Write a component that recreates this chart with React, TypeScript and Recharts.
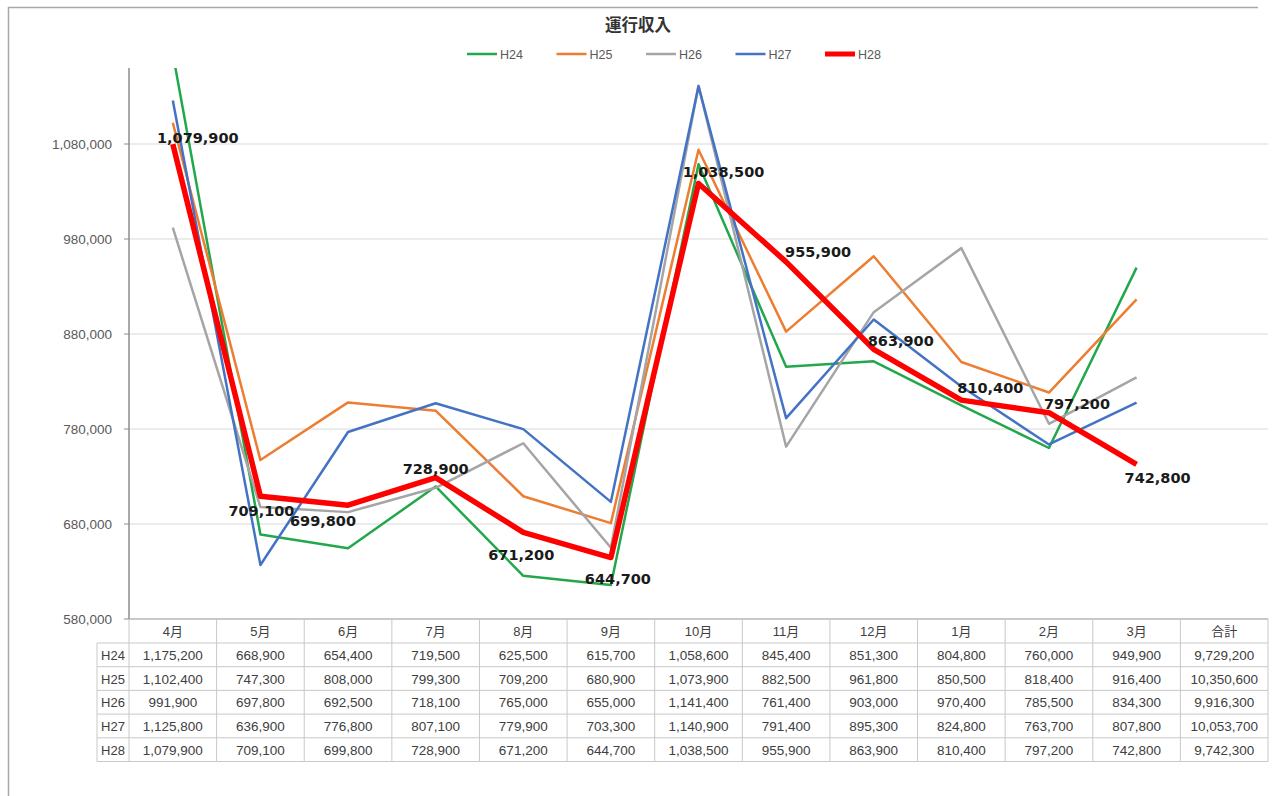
import React from 'react';
import { LineChart, Line, XAxis, YAxis, CartesianGrid, LabelList } from 'recharts';

const months = ['4月', '5月', '6月', '7月', '8月', '9月', '10月', '11月', '12月', '1月', '2月', '3月', '合計'];
const seriesNames = ['H24', 'H25', 'H26', 'H27', 'H28'];
const h24 = [1175200, 668900, 654400, 719500, 625500, 615700, 1058600, 845400, 851300, 804800, 760000, 949900];
const h25 = [1102400, 747300, 808000, 799300, 709200, 680900, 1073900, 882500, 961800, 850500, 818400, 916400];
const h26 = [991900, 697800, 692500, 718100, 765000, 655000, 1141400, 761400, 903000, 970400, 785500, 834300];
const h27 = [1125800, 636900, 776800, 807100, 779900, 703300, 1140900, 791400, 895300, 824800, 763700, 807800];
const h28 = [1079900, 709100, 699800, 728900, 671200, 644700, 1038500, 955900, 863900, 810400, 797200, 742800];
const totals = [9729200, 10350600, 9916300, 10053700, 9742300];
const yTicks = [580000, 680000, 780000, 880000, 980000, 1080000];
const yDomain = [580000, 1160000];

const seriesValues = [h24, h25, h26, h27, h28];
const seriesColors = ['#22A84C', '#ED7D31', '#A5A5A5', '#4472C4', '#FF0000'];
const seriesWidths = [2.5, 2.5, 2.5, 2.5, 5.5];

// label offsets (style only) for H28 data labels: [dx, dy] from the point to the label centre
const labelOffsets = [
  [25, -6], [1, 15], [-25, 16], [0, -9], [-2, 23], [7, 21],
  [25, -11], [32, -10], [27, -8], [29, -12], [28, -9], [21, 14],
];

const data = months.map((m, i) => {
  const row: any = { month: m };
  seriesNames.forEach((s, k) => {
    row[s] = i < 12 ? seriesValues[k][i] : null;
  });
  return row;
});

const fmt = (v: number) => v.toLocaleString('en-US');

const PLOT_LEFT = 129;
const PLOT_RIGHT = 1268;
const PLOT_TOP = 68;
const TABLE_TOP = 619;
const HEADER_H = 24;
const ROW_H = 23.7;
const BAND = (PLOT_RIGHT - PLOT_LEFT) / months.length;
const GRID = '#c8c8c8';
const TXT = '#404040';
const FONT = '"Liberation Sans", "Noto Sans CJK JP", sans-serif';

const TableTick = (props: any) => {
  const { x, index } = props;
  const i = index;
  const left = x - BAND / 2;
  const right = x + BAND / 2;
  const top = TABLE_TOP;
  const bottom = top + HEADER_H + ROW_H * seriesNames.length;
  const cells = seriesNames.map((s, k) => (i < 12 ? seriesValues[k][i] : totals[k]));
  return (
    <g>
      <line x1={right} y1={top} x2={right} y2={bottom} stroke={GRID} strokeWidth={1} />
      {i === 0 && <line x1={left} y1={top} x2={left} y2={bottom} stroke={GRID} strokeWidth={1} />}
      <text x={x} y={top + HEADER_H / 2 + 5} textAnchor="middle" fontSize={13} fill={TXT} fontFamily={FONT}>
        {months[i]}
      </text>
      {cells.map((v, k) => (
        <g key={k}>
          <line x1={left} y1={top + HEADER_H + ROW_H * k} x2={right} y2={top + HEADER_H + ROW_H * k} stroke={GRID} strokeWidth={1} />
          <text x={x} y={top + HEADER_H + ROW_H * k + ROW_H / 2 + 5} textAnchor="middle" fontSize={13.5} fill={TXT} fontFamily={FONT}>
            {fmt(v)}
          </text>
        </g>
      ))}
      <line x1={left} y1={bottom} x2={right} y2={bottom} stroke={GRID} strokeWidth={1} />
      {i === 0 && (
        <g>
          <line x1={97} y1={top + HEADER_H} x2={97} y2={bottom} stroke={GRID} strokeWidth={1} />
          {seriesNames.map((s, k) => (
            <g key={s}>
              <line x1={97} y1={top + HEADER_H + ROW_H * k} x2={left} y2={top + HEADER_H + ROW_H * k} stroke={GRID} strokeWidth={1} />
              <text x={(97 + left) / 2} y={top + HEADER_H + ROW_H * k + ROW_H / 2 + 5} textAnchor="middle" fontSize={13} fill={TXT} fontFamily={FONT}>
                {s}
              </text>
            </g>
          ))}
          <line x1={97} y1={bottom} x2={left} y2={bottom} stroke={GRID} strokeWidth={1} />
        </g>
      )}
    </g>
  );
};

const H28Label = (props: any) => {
  const { x, y, value, index } = props;
  if (value == null) return null;
  const off = labelOffsets[index] || [0, 0];
  return (
    <text
      x={x + off[0]}
      y={y + off[1] + 5}
      textAnchor="middle"
      fontSize={14.5}
      fontWeight="bold"
      fill="#1a1a1a"
      fontFamily='"DejaVu Sans", sans-serif'
    >
      {fmt(value)}
    </text>
  );
};

const gridYs = (args: any) => {
  const ax = args && args.yAxis;
  if (ax && typeof ax.scale === 'function') {
    return yTicks.map((t) => ax.scale(t));
  }
  if (ax && ax.scale && typeof ax.scale.map === 'function') {
    return yTicks.map((t) => ax.scale.map(t));
  }
  const h = TABLE_TOP - PLOT_TOP;
  return yTicks.map((t) => TABLE_TOP - ((t - yDomain[0]) / (yDomain[1] - yDomain[0])) * h);
};

export default function App() {
  return (
    <div style={{ position: 'absolute', left: 0, top: 0, width: 1276, height: 796, background: '#fff' }}>
      <LineChart width={1276} height={796} data={data} margin={{ top: 68, right: 8, bottom: 37, left: 69 }}>
        <CartesianGrid vertical={false} stroke="#d9d9d9" strokeWidth={1} horizontalCoordinatesGenerator={gridYs} />
        <XAxis
          dataKey="month"
          scale="band"
          interval={0}
          height={140}
          tickSize={0}
          tickMargin={0}
          tickLine={false}
          axisLine={{ stroke: '#a6a6a6' }}
          tick={<TableTick />}
        />
        <YAxis
          type="number"
          domain={yDomain}
          ticks={yTicks}
          allowDataOverflow
          width={60}
          tickSize={5}
          tickMargin={12}
          tickFormatter={fmt}
          axisLine={{ stroke: '#8c8c8c', strokeWidth: 1.5 }}
          tickLine={{ stroke: '#8c8c8c' }}
          tick={{ fontSize: 13.5, fill: '#595959', fontFamily: FONT }}
        />
        {seriesNames.map((s, k) => (
          <Line
            key={s}
            dataKey={s}
            type="linear"
            stroke={seriesColors[k]}
            strokeWidth={seriesWidths[k]}
            dot={false}
            activeDot={false}
            isAnimationActive={false}
            strokeLinejoin="round"
          >
            {k === 4 && <LabelList dataKey={s} content={<H28Label />} />}
          </Line>
        ))}
      </LineChart>
      <svg width={1276} height={796} style={{ position: 'absolute', left: 0, top: 0, pointerEvents: 'none' }}>
        <line x1={8} y1={7.5} x2={1258} y2={7.5} stroke="#a8a8a8" strokeWidth={1.5} />
        <line x1={8.5} y1={7} x2={8.5} y2={796} stroke="#a8a8a8" strokeWidth={1.5} />
        <text x={638} y={31} textAnchor="middle" fontSize={16.5} fontWeight="bold" fill="#333" fontFamily='"Noto Sans CJK JP", sans-serif'>
          運行収入
        </text>
        {seriesNames.map((s, k) => {
          const sx = 467 + k * 89.5;
          return (
            <g key={s}>
              <line x1={sx} y1={54} x2={sx + 30} y2={54} stroke={seriesColors[k]} strokeWidth={k === 4 ? 5 : 2.5} />
              <text x={sx + 33} y={58.5} fontSize={12.5} fill="#595959" fontFamily={FONT}>
                {s}
              </text>
            </g>
          );
        })}
      </svg>
    </div>
  );
}
